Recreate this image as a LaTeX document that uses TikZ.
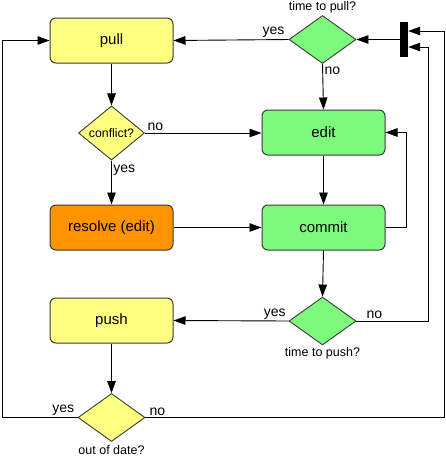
\documentclass[tikz,border=0pt]{standalone}
\usepackage{fontspec}
\setmainfont{Liberation Sans}
\usetikzlibrary{arrows.meta,shapes.geometric}
\definecolor{yel}{HTML}{FFFF80}
\definecolor{grn}{HTML}{7DFA7D}
\definecolor{org}{HTML}{FF9300}
\definecolor{bord}{HTML}{3A3A3A}
\begin{document}
\begin{tikzpicture}[x=1pt,y=-1pt,
  box/.style={draw=bord, line width=1pt, rounded corners=6pt, minimum width=123pt, minimum height=45pt, inner sep=0pt, font=\fontsize{15}{17}\selectfont},
  dia/.style={diamond, draw=bord, line width=0.9pt, minimum width=67pt, minimum height=48pt, inner sep=0pt, font=\fontsize{12.3}{14}\selectfont},
  arr/.style={line width=0.9pt, -{Triangle[length=12pt,width=8.5pt]}},
  elab/.style={font=\fontsize{14}{16}\selectfont, inner sep=1.5pt},
  captxt/.style={font=\fontsize{12.5}{14}\selectfont, inner sep=0pt}]
\useasboundingbox (0,0) rectangle (446,456);
\node[box, fill=yel] (pull) at (111.5,40.5) {pull};
\node[box, fill=grn] (edit) at (323.5,132.5) {edit};
\node[box, fill=grn] (commit) at (323.5,227.5) {commit};
\node[box, fill=org] (resolve) at (111.5,227.5) {resolve (edit)};
\node[box, fill=yel] (push) at (111.5,320.5) {push};
\node[dia, fill=yel, minimum width=66pt, minimum height=49pt] (conflict) at (111.5,133) {conflict?};
\node[dia, fill=grn] (pullq) at (322.5,39.5) {};
\node[dia, fill=grn] (pushq) at (322.5,321) {};
\node[dia, fill=yel] (ood) at (111.5,417.5) {};
\node[fill=black, minimum width=8pt, minimum height=35pt, inner sep=0pt] (bar) at (404,39.5) {};
\node[captxt] (cpull) at (322.5,7) {time to pull?};
\node[captxt] (cpush) at (322.5,353) {time to push?};
\node[captxt] (cood) at (111.5,450) {out of date?};
\coordinate (barin1) at (bar.east |- 0,31);
\coordinate (barin2) at (bar.east |- 0,47);
% connectors
\draw[arr] (bar) -- (pullq.east);
\draw[arr] (pullq.west) -- node[elab, above, pos=0.13]{yes} (pull.east);
\draw[arr] (pullq.south) -- node[elab, right, pos=0.15]{no} (edit.north);
\draw[arr] (pull.south) -- (conflict.north);
\draw[arr] (conflict.east) -- node[elab, above, pos=0.09]{no} (conflict.east -| edit.west);
\draw[arr] (conflict.south) -- node[elab, right, pos=0.22]{yes} (resolve.north);
\draw[arr] (resolve.east) -- (commit.west);
\draw[arr] (edit.south) -- (commit.north);
\draw[arr] (commit.east) -- ++(21,0) |- (edit.east);
\draw[arr] (commit.south) -- (pushq.north);
\draw[arr] (pushq.west) -- node[elab, above, pos=0.12]{yes} (push.east);
\draw[arr] (pushq.east) -- node[elab, above, pos=0.25]{no} ++(72,0) |- (barin2);
\draw[arr] (push.south) -- (ood.north);
\draw[arr] (ood.west) -- node[elab, above, pos=0.19]{yes} ++(-75,0) |- (pull.west);
\draw[arr] (ood.east) -- node[elab, above, pos=0.04]{no} ++(299,0) |- (barin1);
\end{tikzpicture}
\end{document}
